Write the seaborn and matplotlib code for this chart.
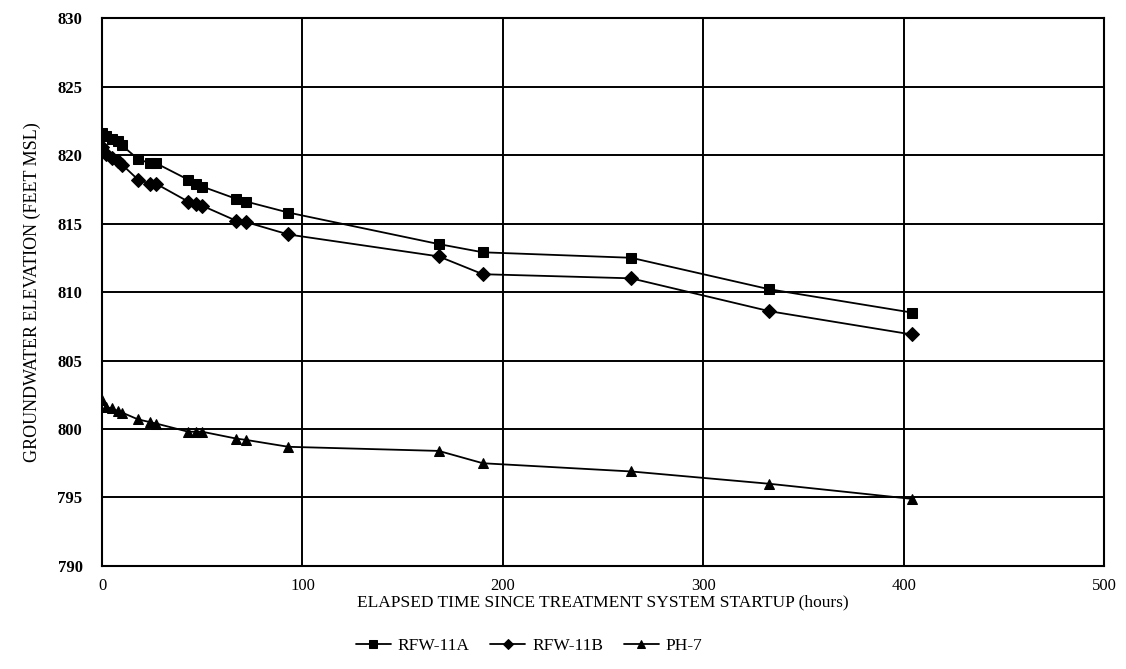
#librerias necesarias
import numpy as np
import pandas as pd
import seaborn as sns
import matplotlib.pyplot as plt

# tiempos de medicion (horas desde el arranque)
horas = [0, 2, 5, 8, 10, 18, 24, 27, 43, 47, 50, 67, 72, 93, 168, 190, 264, 333, 404]

# elevacion del agua subterranea (pies MSL)
rfw_11a = [821.6, 821.4, 821.2, 821.0, 820.7, 819.7, 819.4, 819.4, 818.2, 817.9,
           817.7, 816.8, 816.6, 815.8, 813.5, 812.9, 812.5, 810.2, 808.5]
rfw_11b = [820.6, 820.1, 819.8, 819.6, 819.3, 818.2, 817.9, 817.9, 816.6, 816.4,
           816.3, 815.2, 815.1, 814.2, 812.6, 811.3, 811.0, 808.6, 806.9]
ph_7 = [802.1, 801.6, 801.5, 801.3, 801.2, 800.7, 800.5, 800.4, 799.8, 799.8,
        799.8, 799.3, 799.2, 798.7, 798.4, 797.5, 796.9, 796.0, 794.9]

pozos = ['RFW-11A', 'RFW-11B', 'PH-7']
x_ticks = [0, 100, 200, 300, 400, 500]
y_ticks = [790, 795, 800, 805, 810, 815, 820, 825, 830]

datos = pd.DataFrame({
    'horas': horas * 3,
    'elev': rfw_11a + rfw_11b + ph_7,
    'pozo': [pozos[0]] * len(horas) + [pozos[1]] * len(horas) + [pozos[2]] * len(horas),
})

sns.set_style('white')
plt.rcParams['font.family'] = ['Liberation Serif', 'DejaVu Serif']
plt.rcParams['text.color'] = 'black'
plt.rcParams['axes.labelcolor'] = 'black'
plt.rcParams['xtick.color'] = 'black'
plt.rcParams['ytick.color'] = 'black'

fig = plt.figure(figsize=(11.26, 6.69), dpi=100)
ax = fig.add_axes([0.0906, 0.154, 0.89, 0.819])

sns.lineplot(data=datos, x='horas', y='elev', hue='pozo', style='pozo',
             palette=['black'] * 3, markers={'RFW-11A': 's', 'RFW-11B': 'D', 'PH-7': '^'},
             dashes=False, linewidth=1.3, markersize=7, markeredgecolor='black',
             ax=ax, legend=True)

ax.set_xlim(0, 500)
ax.set_ylim(790, 830)
ax.set_xticks(x_ticks)
ax.set_yticks(y_ticks)
ax.set_xticklabels([str(t) for t in x_ticks], fontsize=12)
ax.set_yticklabels([str(t) for t in y_ticks], fontsize=12, fontweight='bold')
ax.tick_params(axis='x', length=0, pad=9)
ax.tick_params(axis='y', length=0, pad=14)
ax.grid(True, color='black', linewidth=1.4)

for s in ax.spines.values():
    s.set_visible(True)
    s.set_color('black')
    s.set_linewidth(1.5)

ax.set_xlabel('ELAPSED TIME SINCE TREATMENT SYSTEM STARTUP (hours)', fontsize=12.5, labelpad=0)
ax.set_ylabel('GROUNDWATER ELEVATION (FEET MSL)', fontsize=13, labelpad=12)

h, l = ax.get_legend_handles_labels()
ax.legend(h, l, loc='center', bbox_to_anchor=(0.47, 0.035), bbox_transform=fig.transFigure,
          ncol=3, frameon=False, fontsize=12.5, handlelength=2.0, columnspacing=1.2,
          handletextpad=0.4, markerscale=0.8)

fig.savefig('out.png', dpi=100)
